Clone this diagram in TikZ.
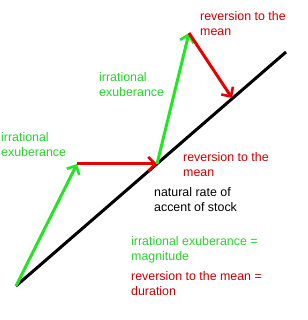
\documentclass[tikz,border=0pt]{standalone}
\usepackage{fontspec}
\setmainfont{Liberation Sans}
\usetikzlibrary{arrows.meta}
\definecolor{grn}{RGB}{34,230,34}
\definecolor{rd}{RGB}{230,0,0}
\definecolor{grntxt}{RGB}{40,210,40}
\definecolor{rdtxt}{RGB}{200,0,0}
\begin{document}
\begin{tikzpicture}[x=1pt,y=1pt,
  vec/.style={line width=3pt,-{Straight Barb[length=7pt,width=14pt,line width=2.6pt]}},
  lbl/.style={inner sep=0pt,anchor=west,align=left,font=\fontsize{12.4}{15}\selectfont}]
\useasboundingbox (0,0) rectangle (307,320);
\coordinate (O) at (16,34);
\coordinate (E) at (286,268);
\coordinate (A) at (77,156);
\coordinate (B) at (157,156);
\coordinate (C) at (189,287);
\coordinate (D) at (232,222);
\draw[line width=3pt,black] (O) -- (E);
\draw[vec,grn] (O) -- (A);
\draw[vec,rd] (A) -- (B);
\draw[vec,grn] (B) -- (C);
\draw[vec,rd] (C) -- (D);
\node[lbl,text=grntxt] (t1) at (1,175.5) {irrational\\exuberance};
\node[lbl,text=grntxt] (t2) at (99,235) {irrational\\exuberance};
\node[lbl,text=rdtxt] (t3) at (200,296.5) {reversion to the\\mean};
\node[lbl,text=rdtxt] (t4) at (183,155.5) {reversion to the\\mean};
\node[lbl,text=black] (t5) at (154,120.5) {natural rate of\\accent of stock};
\node[lbl,text=grntxt] (t6) at (131,70.5) {irrational exuberance =\\magnitude};
\node[lbl,text=rdtxt] (t7) at (131,36) {reversion to the mean =\\duration};
\end{tikzpicture}
\end{document}
